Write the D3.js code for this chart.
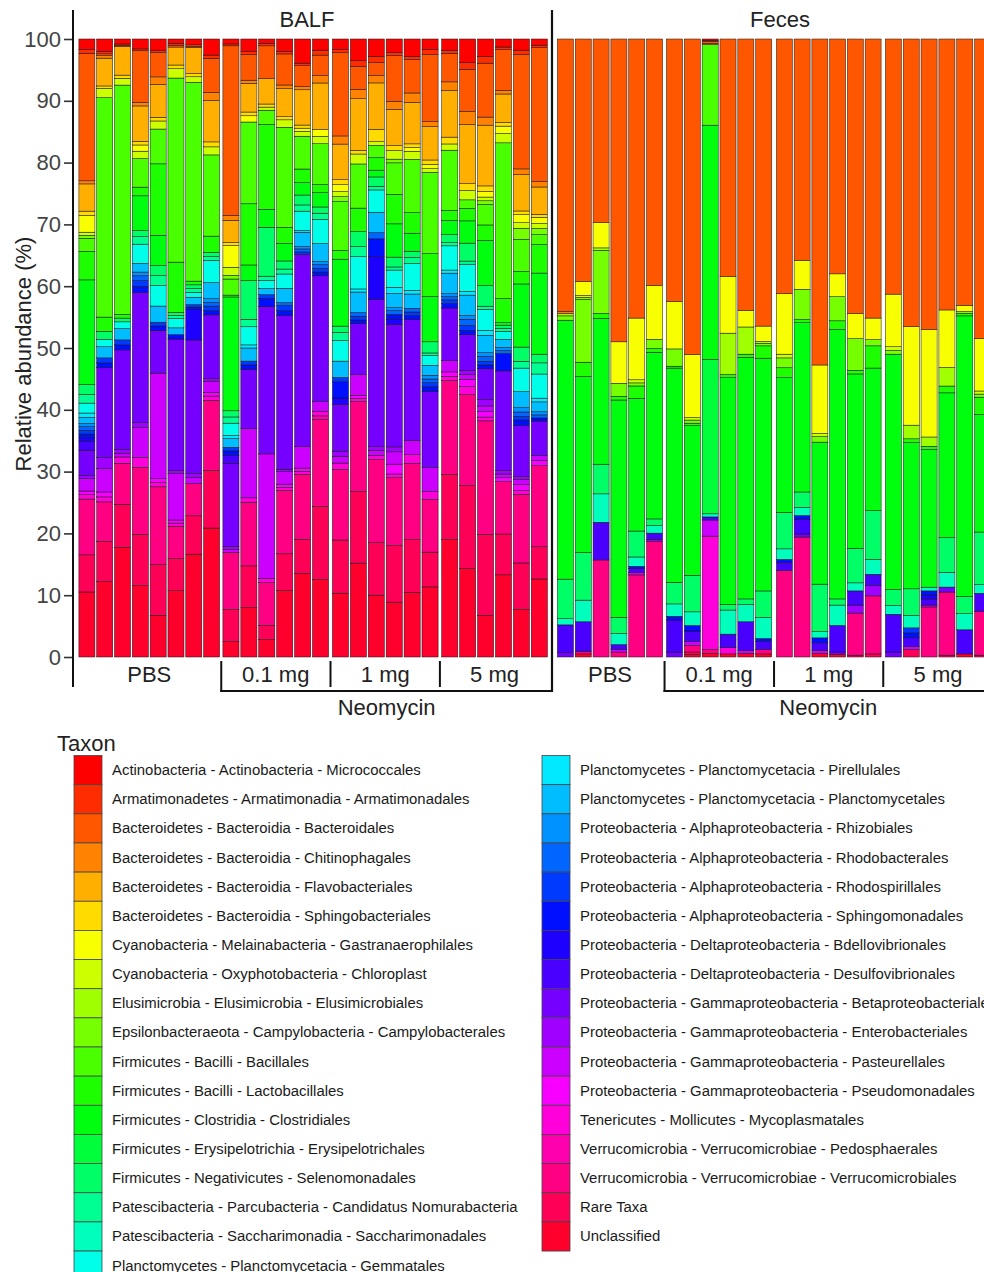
<!DOCTYPE html>
<html><head><meta charset="utf-8">
<script src="https://cdn.jsdelivr.net/npm/d3@7"></script>
<style>body{margin:0;background:#fff}svg{display:block}text{font-family:"Liberation Sans",Arial,sans-serif}</style>
</head><body><svg id="chart" width="984" height="1272"></svg>
<script>
// ---------- DATA ----------
const taxa = [
"Actinobacteria - Actinobacteria - Micrococcales","Armatimonadetes - Armatimonadia - Armatimonadales",
"Bacteroidetes - Bacteroidia - Bacteroidales","Bacteroidetes - Bacteroidia - Chitinophagales",
"Bacteroidetes - Bacteroidia - Flavobacteriales","Bacteroidetes - Bacteroidia - Sphingobacteriales",
"Cyanobacteria - Melainabacteria - Gastranaerophilales","Cyanobacteria - Oxyphotobacteria - Chloroplast",
"Elusimicrobia - Elusimicrobia - Elusimicrobiales","Epsilonbacteraeota - Campylobacteria - Campylobacterales",
"Firmicutes - Bacilli - Bacillales","Firmicutes - Bacilli - Lactobacillales","Firmicutes - Clostridia - Clostridiales",
"Firmicutes - Erysipelotrichia - Erysipelotrichales","Firmicutes - Negativicutes - Selenomonadales",
"Patescibacteria - Parcubacteria - Candidatus Nomurabacteria","Patescibacteria - Saccharimonadia - Saccharimonadales",
"Planctomycetes - Planctomycetacia - Gemmatales","Planctomycetes - Planctomycetacia - Pirellulales",
"Planctomycetes - Planctomycetacia - Planctomycetales","Proteobacteria - Alphaproteobacteria - Rhizobiales",
"Proteobacteria - Alphaproteobacteria - Rhodobacterales","Proteobacteria - Alphaproteobacteria - Rhodospirillales",
"Proteobacteria - Alphaproteobacteria - Sphingomonadales","Proteobacteria - Deltaproteobacteria - Bdellovibrionales",
"Proteobacteria - Deltaproteobacteria - Desulfovibrionales","Proteobacteria - Gammaproteobacteria - Betaproteobacteriales",
"Proteobacteria - Gammaproteobacteria - Enterobacteriales","Proteobacteria - Gammaproteobacteria - Pasteurellales",
"Proteobacteria - Gammaproteobacteria - Pseudomonadales","Tenericutes - Mollicutes - Mycoplasmatales",
"Verrucomicrobia - Verrucomicrobiae - Pedosphaerales","Verrucomicrobia - Verrucomicrobiae - Verrucomicrobiales",
"Rare Taxa","Unclassified"];
const codes = ["Mic","Arm","Bac","Chi","Fla","Sph","Gas","Chl","Elu","Cam","Bcl","Lac","Clo","Ery","Sel","Nom","Sac","Gem","Pir","Pla","Rhi","Rhb","Rhs","Sgm","Bde","Des","Bet","Ent","Pas","Pse","Myc","Ped","Ver","Rar","Unc"];

const balfPBS = [
{Mic:1.7,Arm:0.6,Bac:20.6,Chi:0.5,Fla:4.4,Sph:0.7,Gas:2.7,Chl:0.5,Cam:0.5,Bcl:2.1,Lac:4.6,Clo:16.9,Sel:1.6,Nom:1.4,Gem:1.6,Pir:0.7,Pla:1.0,Rhi:0.5,Rhb:0.6,Rhs:0.6,Sgm:0.6,Bde:0.6,Des:1.4,Bet:4.1,Ent:0.5,Pas:2.0,Pse:0.6,Myc:0.7,Ver:9.0,Rar:6.0,Unc:10.5},
{Mic:2.0,Arm:0.4,Bac:0.3,Chi:0.4,Fla:4.5,Sph:0.4,Chl:1.5,Bcl:35.5,Lac:2.3,Sel:1.3,Gem:1.2,Pla:1.8,Rhs:0.8,Sgm:0.8,Bet:14.5,Ent:1.8,Pas:3.8,Pse:0.8,Myc:0.8,Ver:6.4,Rar:6.5,Unc:12.2},
{Mic:0.8,Arm:0.2,Bac:0.2,Fla:4.6,Sph:0.5,Chl:1.1,Bcl:36.8,Lac:0.6,Sel:0.6,Gem:1.1,Pla:1.8,Rhs:0.8,Sgm:0.8,Bet:16.0,Ent:0.6,Pas:0.6,Myc:1.0,Ver:6.6,Rar:6.9,Unc:17.6},
{Mic:1.6,Arm:0.3,Bac:8.3,Chi:0.6,Fla:5.7,Sph:0.6,Gas:1.0,Chl:1.2,Bcl:4.6,Lac:1.4,Clo:5.6,Sel:1.0,Nom:1.2,Gem:3.1,Pla:1.4,Rhi:0.6,Rhb:0.8,Rhs:0.9,Sgm:1.0,Bet:21.0,Ent:0.8,Pas:4.8,Myc:1.6,Ver:10.8,Rar:8.3,Unc:11.5},
{Mic:1.8,Arm:0.4,Bac:3.9,Chi:1.2,Fla:5.3,Sph:0.6,Chl:1.3,Bcl:5.6,Lac:11.5,Clo:4.9,Sel:1.6,Nom:1.6,Gem:3.3,Pla:2.6,Rhs:0.6,Sgm:0.7,Bet:6.9,Pas:17.0,Pse:0.6,Myc:0.7,Ver:12.5,Rar:8.2,Unc:6.7},
{Mic:0.7,Arm:0.3,Bac:0.3,Fla:2.9,Sph:0.6,Chl:1.5,Bcl:29.7,Lac:8.1,Sel:0.5,Nom:0.5,Gem:1.5,Pla:1.1,Sgm:0.7,Bet:21.2,Ent:0.5,Pas:7.5,Pse:0.5,Myc:0.5,Ver:5.2,Rar:5.2,Unc:10.7},
{Mic:0.9,Arm:0.3,Bac:0.2,Fla:4.2,Sph:0.5,Chl:0.9,Bcl:32.1,Lac:0.6,Sel:0.6,Nom:0.6,Gem:0.8,Pla:1.2,Rhs:0.4,Sgm:0.4,Bde:4.9,Bet:21.6,Ent:0.6,Pas:1.0,Ver:5.2,Rar:6.2,Unc:16.6},
{Mic:2.6,Arm:0.5,Bac:5.5,Chi:1.3,Fla:6.7,Sph:0.8,Chl:1.3,Bcl:13.1,Lac:2.6,Sel:0.7,Nom:0.6,Gem:3.6,Pla:2.6,Rhi:0.6,Rhb:0.6,Rhs:0.7,Sgm:0.7,Bet:10.3,Ent:0.4,Pas:1.8,Pse:0.6,Myc:0.7,Ver:11.3,Rar:9.3,Unc:20.8}];

const balfNeo01 = [
{Mic:0.8,Arm:0.3,Bac:27.4,Chi:0.8,Fla:3.6,Sph:0.5,Gas:3.5,Chl:1.3,Cam:0.6,Bcl:2.6,Lac:0.3,Clo:18.4,Sel:1.0,Nom:1.0,Gem:2.0,Pir:0.5,Pla:1.4,Rhs:0.6,Sgm:0.7,Des:1.3,Bet:13.4,Ent:0.5,Pas:0.5,Ver:9.2,Rar:5.2,Unc:2.5},
{Mic:2.0,Arm:0.5,Bac:4.1,Chi:0.5,Fla:4.6,Sph:0.6,Gas:1.0,Bcl:13.1,Lac:9.8,Clo:2.5,Sel:6.2,Nom:1.2,Gem:2.9,Pir:0.5,Pla:2.1,Rhs:0.6,Sgm:0.7,Bet:9.5,Pas:11.1,Myc:0.7,Ver:10.2,Rar:6.7,Unc:7.9},
{Mic:0.7,Arm:0.4,Bac:5.3,Fla:4.1,Sph:0.5,Chl:0.5,Bcl:2.3,Lac:13.7,Clo:2.9,Sel:7.9,Nom:0.7,Gem:1.3,Pla:1.0,Rhs:0.6,Sgm:1.3,Bet:23.8,Pas:20.1,Myc:0.7,Ver:6.9,Rar:2.3,Unc:2.8},
{Mic:2.0,Arm:0.4,Bac:5.0,Chi:0.6,Fla:4.5,Sph:0.5,Chl:1.2,Bcl:16.1,Lac:2.6,Clo:2.8,Sel:1.3,Nom:0.8,Gem:2.3,Pla:2.3,Rhb:0.5,Rhs:0.8,Sgm:0.8,Bet:24.7,Ent:0.4,Pas:2.0,Pse:0.5,Myc:0.5,Ver:10.2,Rar:5.9,Unc:10.7},
{Mic:3.9,Arm:0.4,Bac:3.4,Chi:0.5,Fla:5.7,Sph:0.5,Gas:0.5,Chl:0.8,Bcl:5.3,Lac:2.2,Clo:2.0,Sel:1.6,Nom:1.0,Gem:3.1,Pir:0.3,Pla:2.3,Rhi:0.4,Rhb:0.5,Rhs:0.4,Bet:31.0,Pas:3.5,Pse:0.5,Myc:0.5,Ver:10.5,Rar:5.5,Unc:13.5},
{Mic:1.8,Arm:0.8,Bac:3.3,Chi:1.2,Fla:7.5,Gas:1.1,Chl:1.2,Bcl:6.6,Lac:1.3,Clo:2.3,Sel:1.0,Nom:1.0,Gem:3.9,Pla:2.9,Rhi:0.5,Rhb:0.6,Rhs:0.6,Sgm:0.6,Bet:20.3,Pas:1.6,Myc:0.7,Ped:0.6,Ver:14.0,Rar:11.8,Unc:12.5}];

const balfNeo1 = [
{Mic:1.7,Arm:0.5,Bac:13.3,Chi:1.3,Fla:5.7,Sph:0.8,Gas:1.1,Chl:0.8,Cam:0.8,Bcl:7.8,Lac:1.4,Clo:10.7,Sel:1.0,Nom:1.3,Gem:3.3,Pla:2.6,Rhs:0.7,Sgm:2.6,Bde:1.0,Bet:7.5,Ent:0.8,Pas:1.1,Myc:1.0,Ver:11.3,Rar:8.5,Unc:10.2},
{Mic:3.5,Arm:0.9,Bac:3.7,Chi:1.5,Fla:8.3,Sph:0.6,Chl:1.6,Bcl:7.1,Lac:3.8,Sel:2.4,Nom:1.6,Gem:5.2,Pir:0.5,Pla:3.3,Rhb:0.6,Rhs:0.6,Sgm:0.6,Bet:8.2,Pas:3.3,Pse:0.5,Myc:0.5,Ver:14.5,Rar:11.5,Unc:15.1},
{Mic:2.8,Arm:1.0,Bac:2.1,Chi:1.2,Fla:7.5,Sph:2.0,Chl:0.6,Bcl:2.0,Lac:2.0,Clo:1.1,Sel:1.5,Nom:0.6,Gem:3.6,Pla:3.3,Rhb:1.0,Sgm:2.9,Bde:6.9,Bet:23.8,Ent:0.6,Pas:0.8,Myc:0.7,Ver:13.4,Rar:8.5,Unc:10.0},
{Mic:2.2,Arm:0.5,Bac:7.4,Chi:1.3,Fla:5.9,Sph:0.8,Chl:1.4,Cam:0.6,Bcl:5.1,Lac:4.8,Clo:5.4,Sel:1.6,Nom:0.5,Gem:2.8,Pir:1.0,Pla:2.3,Rhi:0.5,Rhb:0.6,Sgm:0.8,Bde:0.8,Bet:19.9,Ent:0.8,Pas:2.0,Pse:1.6,Myc:0.6,Ver:11.0,Rar:9.2,Unc:8.9},
{Mic:2.8,Arm:0.5,Bac:5.4,Chi:1.5,Fla:6.7,Sph:0.6,Gas:0.6,Chl:1.3,Bcl:8.6,Lac:3.3,Clo:2.9,Sel:1.0,Nom:1.0,Gem:4.3,Pir:0.6,Pla:2.3,Rhb:0.6,Rhs:0.6,Sgm:0.6,Bet:19.5,Pas:2.3,Myc:1.4,Ver:12.3,Rar:8.5,Unc:10.4},
{Mic:1.7,Arm:0.8,Bac:10.8,Chi:0.8,Fla:5.4,Sph:0.7,Gas:0.7,Chl:0.6,Bcl:13.1,Lac:6.9,Clo:7.3,Sel:1.8,Nom:0.4,Gem:1.6,Pla:1.6,Rhi:0.6,Rhb:0.6,Rhs:0.6,Sgm:0.8,Bet:12.3,Pas:3.8,Myc:1.3,Ver:8.5,Rar:5.6,Unc:11.3}];

const balfNeo5 = [
{Mic:1.8,Arm:0.5,Bac:4.6,Chi:1.4,Fla:7.5,Sph:1.1,Chl:1.0,Bcl:9.7,Lac:1.6,Clo:2.3,Sel:1.3,Nom:0.5,Gem:3.9,Pir:0.5,Pla:3.3,Rhi:0.5,Rhb:0.5,Rhs:0.6,Sgm:0.7,Bet:8.5,Pas:1.8,Pse:0.7,Myc:0.7,Ver:15.1,Rar:10.5,Unc:18.9},
{Mic:3.8,Arm:1.1,Bac:6.8,Chi:2.1,Fla:9.6,Sph:1.1,Chl:1.5,Bcl:1.4,Lac:2.0,Clo:3.6,Sel:2.9,Nom:0.5,Gem:4.4,Pir:0.6,Pla:3.3,Rhi:0.6,Rhb:1.0,Rhs:0.8,Sgm:0.7,Bet:5.8,Ent:0.6,Pas:0.8,Pse:1.2,Myc:1.3,Ver:14.7,Rar:13.4,Unc:14.3},
{Mic:2.8,Arm:1.1,Bac:8.7,Chi:1.3,Fla:9.8,Sph:0.9,Gas:0.9,Chl:0.6,Cam:0.6,Bcl:3.3,Lac:2.5,Clo:7.3,Sel:3.3,Nom:0.5,Gem:3.4,Pir:0.8,Pla:2.8,Rhi:0.6,Rhb:0.8,Rhs:0.6,Sgm:0.6,Bet:5.0,Ent:1.0,Pas:0.9,Pse:0.9,Myc:0.6,Ver:18.3,Rar:13.1,Unc:6.7},
{Mic:1.3,Arm:0.4,Bac:6.6,Chi:0.6,Fla:4.6,Sph:0.6,Gas:1.2,Chl:1.5,Bcl:25.2,Lac:3.9,Clo:0.4,Sel:0.5,Nom:0.5,Gem:1.3,Pla:1.3,Rhi:0.5,Rhb:0.5,Sgm:2.8,Bet:16.1,Ent:0.6,Pas:0.6,Pse:0.6,Ver:8.5,Rar:6.6,Unc:13.3},
{Mic:1.8,Arm:0.7,Bac:18.5,Chi:0.9,Fla:5.9,Sph:0.6,Gas:1.3,Chl:0.9,Cam:1.8,Bcl:5.2,Lac:2.0,Clo:10.2,Sel:2.3,Nom:1.1,Gem:3.8,Pla:2.6,Rhi:0.7,Rhb:0.7,Rhs:0.6,Sgm:0.9,Bet:8.2,Ent:0.5,Pas:0.8,Pse:1.0,Myc:0.6,Ver:11.1,Rar:7.5,Unc:7.7},
{Mic:1.0,Arm:0.4,Bac:21.6,Chi:0.9,Fla:4.4,Sph:0.5,Gas:1.0,Chl:0.8,Cam:1.0,Bcl:1.6,Lac:4.6,Clo:13.1,Sel:1.4,Nom:1.8,Gem:3.9,Pir:0.6,Pla:1.6,Rhi:0.5,Rhb:0.5,Sgm:0.5,Bet:5.6,Pas:0.8,Pse:0.8,Ver:13.1,Rar:5.2,Unc:12.6}];

const fecesPBS = [
{Bac:44.1,Chi:0.3,Elu:0.4,Cam:0.7,Clo:41.9,Sel:6.4,Sac:1.0,Des:4.5,Bet:0.7},
{Bac:39.2,Gas:2.3,Chl:0.3,Elu:0.3,Cam:10.2,Lac:2.3,Clo:28.5,Sel:7.7,Sac:3.5,Des:4.8,Ver:0.4,Unc:0.5},
{Bac:29.7,Gas:4.1,Elu:0.4,Cam:10.2,Lac:0.8,Clo:23.6,Sel:4.8,Sac:4.6,Des:6.1,Ver:15.7},
{Bac:48.9,Gas:6.7,Cam:2.1,Lac:0.6,Clo:35.1,Sel:2.6,Sac:1.8,Des:0.8,Pas:0.4,Ver:0.8},
{Bac:45.2,Gas:10.0,Chl:0.5,Cam:0.5,Lac:2.0,Clo:21.5,Sel:4.2,Sac:1.5,Sgm:0.4,Des:0.6,Pas:0.4,Ver:13.3},
{Bac:39.8,Gas:8.7,Cam:1.5,Lac:0.6,Clo:26.9,Sel:1.1,Sac:1.2,Des:1.0,Ent:0.3,Ver:18.7}];

const fecesNeo01 = [
{Bac:42.5,Gas:7.7,Cam:2.8,Lac:0.3,Clo:34.7,Sel:3.5,Sac:2.0,Sgm:0.6,Des:5.2,Bet:0.8},
{Bac:51.0,Gas:10.2,Chl:0.4,Cam:0.5,Lac:0.4,Clo:24.2,Sel:5.9,Sac:2.2,Sgm:0.9,Des:1.7,Pas:0.6,Ver:1.1,Rar:0.4,Unc:0.4},
{Mic:0.2,Arm:0.2,Bac:0.3,Chi:0.2,Bcl:13.0,Clo:37.8,Ery:24.9,Sac:0.5,Des:0.5,Pas:2.6,Myc:18.3,Ver:0.6,Unc:0.6},
{Bac:38.4,Gas:9.2,Elu:6.7,Lac:0.5,Clo:36.7,Sel:0.9,Sac:3.9,Des:2.2,Myc:1.0,Unc:0.5},
{Bac:43.9,Gas:2.7,Elu:4.4,Lac:0.5,Clo:39.1,Sel:0.9,Sac:2.8,Des:4.6,Pas:0.5,Unc:0.6},
{Bac:46.5,Gas:2.5,Elu:0.3,Cam:0.4,Lac:2.0,Clo:37.7,Sel:4.3,Sac:3.4,Sgm:0.5,Des:1.3,Ver:0.7,Unc:0.5}];

const fecesNeo1 = [
{Bac:41.2,Gas:9.8,Chl:0.6,Cam:1.6,Lac:1.6,Clo:21.8,Sel:5.9,Sac:1.7,Sgm:0.5,Des:1.3,Ver:14.0},
{Bac:35.8,Gas:4.7,Cam:4.9,Lac:0.5,Clo:27.4,Sel:2.5,Sac:1.3,Sgm:0.6,Des:2.4,Bet:0.5,Ver:19.4},
{Bac:52.8,Gas:11.1,Chl:0.5,Cam:0.9,Clo:23.0,Sel:7.7,Sac:1.0,Sgm:0.8,Des:1.2,Pas:0.5,Unc:0.6},
{Bac:38.0,Gas:3.7,Cam:3.9,Lac:1.4,Clo:43.6,Sel:1.0,Sac:3.3,Des:4.3,Bet:0.4,Unc:0.4},
{Bac:44.4,Gas:4.1,Cam:5.1,Lac:0.6,Clo:28.2,Sel:5.6,Sac:1.3,Des:2.3,Ent:1.3,Rar:0.3,Ver:6.8},
{Bac:45.2,Gas:3.5,Cam:1.0,Lac:3.6,Clo:23.1,Sel:7.9,Sac:2.4,Des:1.8,Ent:1.7,Rar:0.5,Ver:9.4}];

const fecesNeo5 = [
{Bac:41.2,Gas:8.5,Chl:0.6,Cam:0.6,Clo:38.0,Sel:2.6,Sac:1.4,Des:6.1,Bet:0.8},
{Bac:46.4,Gas:15.9,Elu:2.2,Lac:0.6,Clo:23.6,Sel:4.3,Sac:2.0,Rhs:0.8,Sgm:0.8,Des:1.4,Pas:0.5,Rar:1.2},
{Bac:47.0,Gas:17.4,Elu:1.5,Lac:0.5,Clo:22.3,Sac:0.6,Sgm:0.7,Bde:0.6,Des:1.0,Pas:0.3,Ver:8.1},
{Bac:43.8,Gas:9.3,Elu:3.0,Lac:1.1,Clo:23.4,Sel:5.6,Sac:2.4,Bet:0.8,Rar:0.3,Ver:10.2},
{Bac:43.1,Gas:1.0,Cam:0.3,Lac:0.4,Clo:45.4,Sel:2.8,Sac:2.6,Des:3.9,Unc:0.5},
{Bac:48.4,Gas:8.5,Chl:0.5,Cam:0.5,Lac:2.8,Clo:19.0,Sel:8.5,Sac:1.4,Des:2.9,Rar:0.3,Ver:7.1}];

const groupLabels = ["PBS","0.1 mg","1 mg","5 mg"];
const panelLabels = ["BALF","Feces"];
const treatmentLabel = "Neomycin";
const yTicks = [0,10,20,30,40,50,60,70,80,90,100];
const yTitle = "Relative abundance (%)";
const legendTitle = "Taxon";

// ---------- LAYOUT ----------
const colorOf = {};
codes.forEach((c,i)=>{ colorOf[c] = d3.hsl(i*360/codes.length, 1, 0.5).formatHex(); });

const panels = [
  {label: panelLabels[0], labelX: 307, right: 552, groups: [
    {label: groupLabels[0], data: balfPBS,   range: [78, 220.5]},
    {label: groupLabels[1], data: balfNeo01, range: [222, 329.5]},
    {label: groupLabels[2], data: balfNeo1,  range: [331.5, 439]},
    {label: groupLabels[3], data: balfNeo5,  range: [440.8, 548.3]}]},
  {label: panelLabels[1], labelX: 780, right: 995, groups: [
    {label: groupLabels[0], data: fecesPBS,   range: [556.5, 663.5]},
    {label: groupLabels[1], data: fecesNeo01, range: [665.6, 772.6]},
    {label: groupLabels[2], data: fecesNeo1,  range: [775.5, 882]},
    {label: groupLabels[3], data: fecesNeo5,  range: [884.5, 991.5]}]}
];

const FS = 22;
const svg = d3.select("#chart");
const y = d3.scaleLinear().domain([0,100]).range([657,39]);
const keysBottomFirst = codes.slice().reverse();
const stack = d3.stack().keys(keysBottomFirst).value((d,k)=>d[k]||0);

panels.forEach(p=>{
  p.groups.forEach((g,gi)=>{
    const x = d3.scaleBand().domain(d3.range(g.data.length)).range(g.range).paddingInner(0.1).paddingOuter(0.05);
    const rows = g.data.map(d=>{
      const t = d3.sum(codes, c=>d[c]||0);
      const o = {}; codes.forEach(c=>{ o[c] = (d[c]||0)*100/t; }); return o;
    });
    const series = stack(rows);
    const gEl = svg.append("g");
    series.forEach(s=>{
      gEl.selectAll(null)
        .data(s.map((d,i)=>({d,i})).filter(o=>o.d[1]-o.d[0]>0.001))
        .join("rect")
        .attr("x", o=>x(o.i)).attr("width", x.bandwidth())
        .attr("y", o=>y(o.d[1])).attr("height", o=>y(o.d[0])-y(o.d[1]))
        .attr("fill", colorOf[s.key])
        .attr("stroke", "#111").attr("stroke-width", 0.5);
    });
    svg.append("text").attr("x",(g.range[0]+g.range[1])/2).attr("y",682)
      .attr("text-anchor","middle").attr("font-size",FS).attr("fill","#222").text(g.label);
    if (gi>0) {
      const sx = (p.groups[gi-1].range[1]+g.range[0])/2;
      svg.append("line").attr("x1",sx).attr("x2",sx).attr("y1",661).attr("y2", gi===1?692:687)
        .attr("stroke","#111").attr("stroke-width",2);
    }
  });
  const sx1 = (p.groups[0].range[1]+p.groups[1].range[0])/2;
  svg.append("line").attr("x1",sx1-1).attr("x2",p.right).attr("y1",691).attr("y2",691)
    .attr("stroke","#111").attr("stroke-width",2);
  svg.append("text").attr("x",(sx1+Math.min(p.right,992))/2).attr("y",715)
    .attr("text-anchor","middle").attr("font-size",FS).attr("fill","#222").text(treatmentLabel);
  svg.append("text").attr("x",p.labelX).attr("y",27)
    .attr("text-anchor","middle").attr("font-size",FS).attr("fill","#222").text(p.label);
});

// panel separator
svg.append("line").attr("x1",552).attr("x2",552).attr("y1",10).attr("y2",692)
  .attr("stroke","#111").attr("stroke-width",2.2);

// y axis
const ax = svg.append("g").attr("transform","translate(73,0)")
  .call(d3.axisLeft(y).tickValues(yTicks).tickSize(9).tickPadding(3));
ax.select(".domain").remove();
ax.selectAll(".tick line").attr("stroke","#333").attr("stroke-width",1.6);
ax.selectAll(".tick text").attr("font-size",FS).attr("fill","#444")
  .attr("font-family","'Liberation Sans',Arial,sans-serif");
svg.append("line").attr("x1",73).attr("x2",73).attr("y1",10).attr("y2",687)
  .attr("stroke","#111").attr("stroke-width",2);
svg.append("text").attr("transform","translate(31,354) rotate(-90)")
  .attr("text-anchor","middle").attr("font-size",FS).attr("fill","#222").text(yTitle);

// legend
svg.append("text").attr("x",57).attr("y",751).attr("font-size",FS).attr("fill","#222").text(legendTitle);
const rowH = 29.15, leftN = 18;
const leg = svg.append("g");
taxa.forEach((t,i)=>{
  const col = i < leftN ? 0 : 1;
  const r = col===0 ? i : i-leftN;
  const sx = col===0 ? 74 : 542;
  const top = 755.5 + r*rowH;
  leg.append("rect").attr("x",sx).attr("y",top).attr("width",28).attr("height",rowH)
    .attr("fill",colorOf[codes[i]]).attr("stroke","#444").attr("stroke-width",0.8);
  leg.append("text").attr("x",sx+38).attr("y",top+rowH/2+5).attr("font-size",14.9)
    .attr("fill","#1a1a1a").text(t);
});
</script></body></html>
